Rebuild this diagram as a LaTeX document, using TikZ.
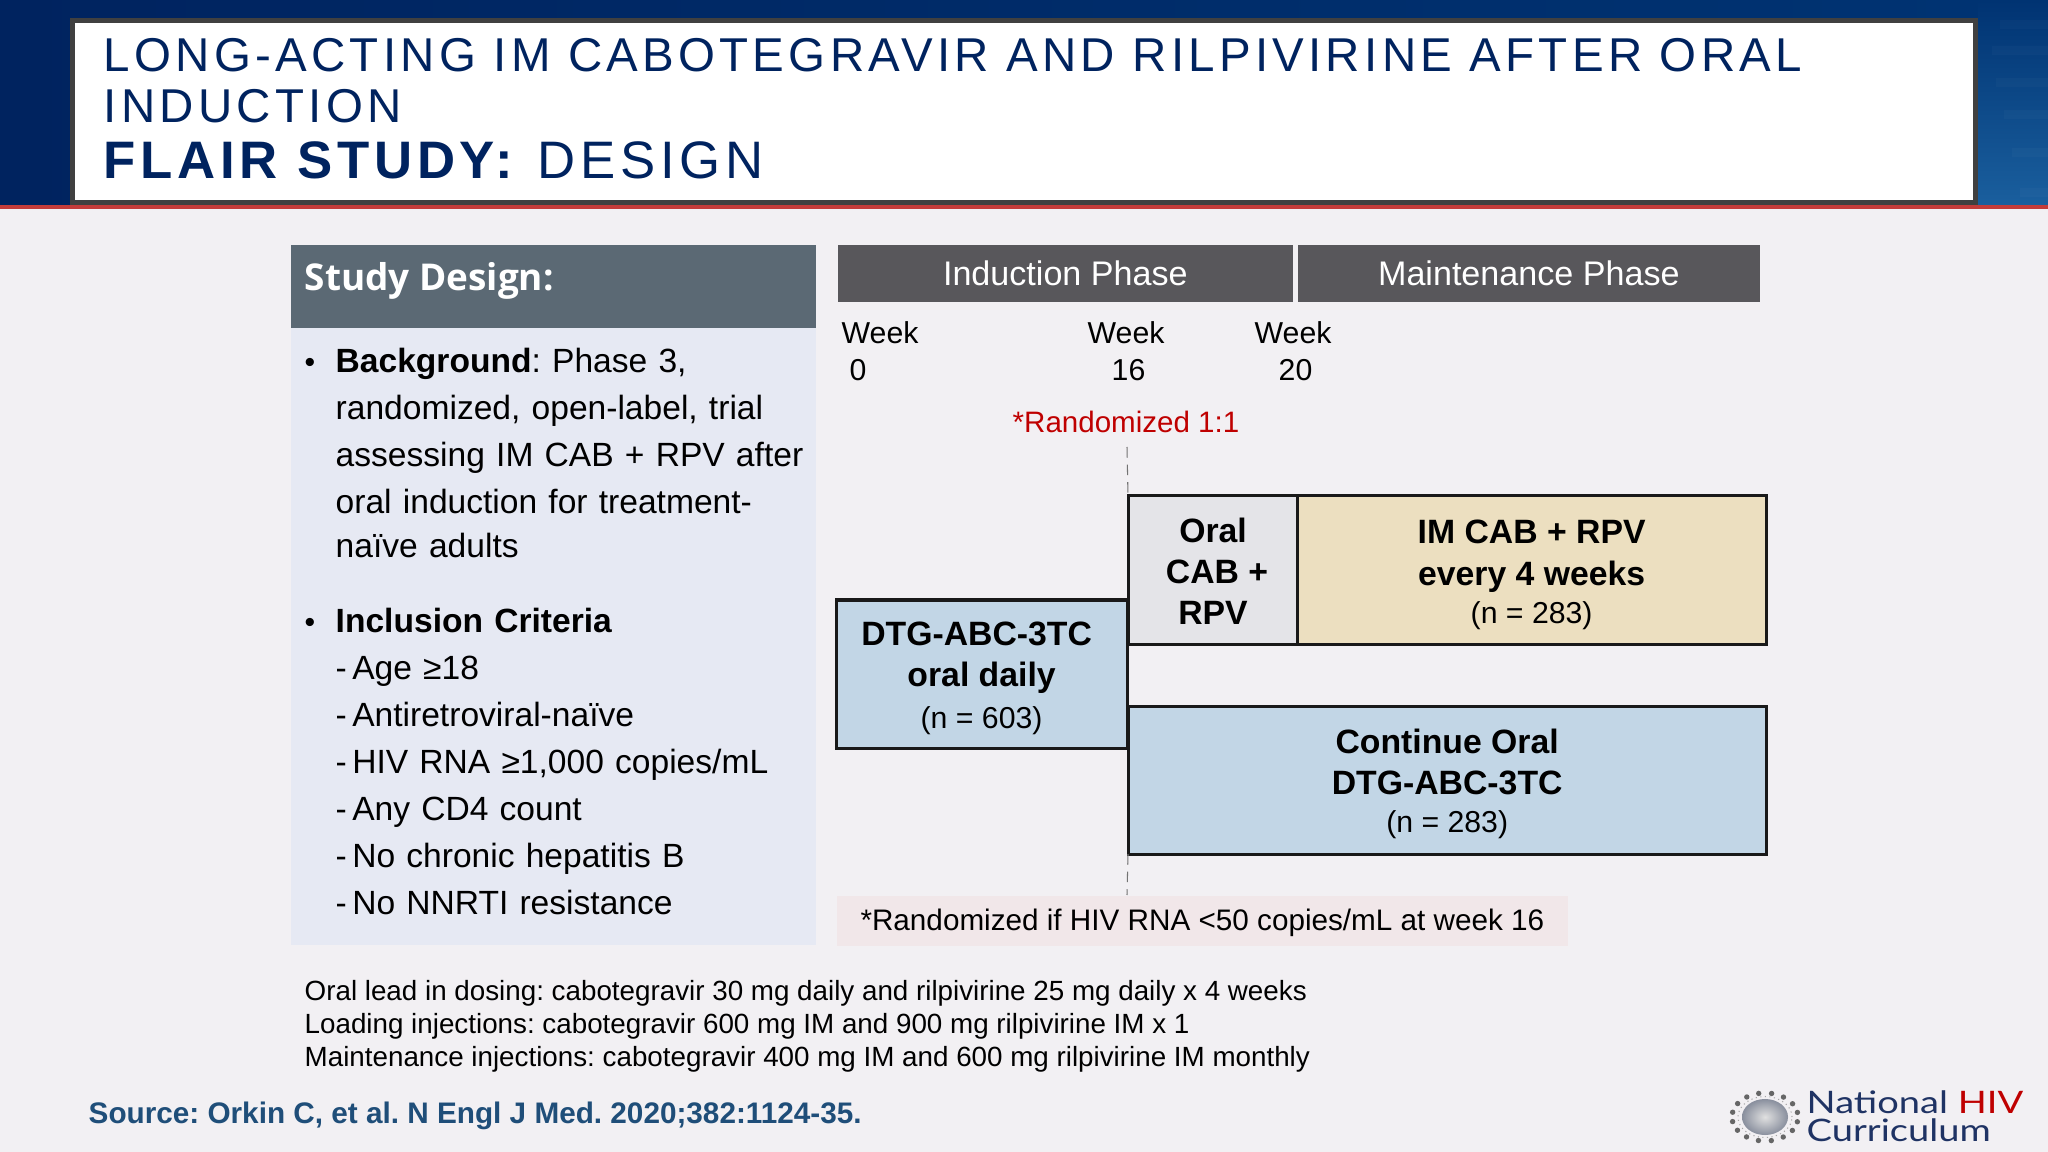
\documentclass[tikz,border=0pt]{standalone}
\usepackage{fontspec}
\setmainfont{Liberation Sans}
\newfontfamily\titlefont[LetterSpace=9]{Liberation Sans}
\newfontfamily\paneltitlefont{Open Sans}
\newfontfamily\logofont[FakeStretch=1.23]{Lato}
\definecolor{navy}{HTML}{00235F}
\definecolor{bannerright}{HTML}{003372}
\definecolor{bannerlow}{HTML}{1A5F9E}
\definecolor{redline}{HTML}{C43C3A}
\definecolor{slide}{HTML}{F2F0F3}
\definecolor{panel}{HTML}{E6E9F3}
\definecolor{paneltop}{HTML}{5B6974}
\definecolor{phase}{HTML}{58575B}
\definecolor{armblue}{HTML}{C2D6E6}
\definecolor{armgrey}{HTML}{E4E4E8}
\definecolor{armtan}{HTML}{ECDFC0}
\definecolor{notepink}{HTML}{F1E7E9}
\definecolor{logoblue}{HTML}{1F3364}
\definecolor{sourceblue}{HTML}{1F4E79}
\frenchspacing
\tikzset{
    titleline/.style={anchor=base west,inner sep=0,text=navy},
    phasebar/.style={anchor=north west,inner sep=0,fill=phase,text=white,minimum height=0.57cm,font=\fontsize{9.7}{12}\selectfont},
    armbox/.style={anchor=north west,inner sep=0,outer sep=0,draw=black!90,line width=0.03cm,align=center,font=\fontsize{9.6}{11.7}\selectfont},
    weeklabel/.style={anchor=base west,inner sep=0,font=\fontsize{8.6}{10}\selectfont},
    listtext/.style={anchor=north west,inner sep=0,text width=4.75cm,align=left,font=\fontsize{9.55}{13.37}\selectfont},
    bulletmark/.style={anchor=base west,inner sep=0,font=\fontsize{8.6}{11}\selectfont},
    dosing/.style={anchor=base west,inner sep=0,font=\fontsize{7.9}{9}\selectfont},
}
\newcommand{\armcount}[1]{{\fontsize{8.6}{11.7}\selectfont #1}}
\newcommand{\listdash}{-\kern0.16em}
\begin{document}
\begin{tikzpicture}[x=0.01cm,y=-0.01cm]
    \useasboundingbox (0,0) rectangle (2048,1152);
    \fill [slide] (0,0) rectangle (2048,1152);
    % banner
    \shade [left color=navy,right color=bannerright] (0,0) rectangle (1978,206);
    \shade [top color=bannerright,bottom color=bannerlow] (1978,0) rectangle (2048,206);
    \foreach \sy/\sx in {24/2000,50/1992,82/1996,114/2004,152/2012,192/2020} {
        \fill [white,opacity=0.025] (\sx,\sy-4) rectangle (2048,\sy+5);
    }
    \fill [redline] (0,205) rectangle (2048,209);
    \draw [draw=black!75,fill=white,line width=0.05cm] (72.5,20.5) rectangle (1975.5,202.5);
    \node [titleline,font=\titlefont\fontsize{13.5}{16}\selectfont] (titleA) at (103,72) {LONG-ACTING IM CABOTEGRAVIR AND RILPIVIRINE AFTER ORAL};
    \node [titleline,font=\titlefont\fontsize{13.5}{16}\selectfont] (titleB) at (103,123) {INDUCTION};
    \node [titleline,font=\titlefont\fontsize{15}{18}\selectfont] (titleC) at (103,179) {\textbf{FLAIR STUDY:} DESIGN};
    % left panel
    \fill [panel] (291,328) rectangle (816,945);
    \fill [paneltop] (291,245) rectangle (816,328);
    \node [anchor=base west,inner sep=0,text=white,font=\paneltitlefont\bfseries\fontsize{10.5}{12}\selectfont] (paneltitle) at (304,291) {Study Design:};
    \node [bulletmark] (bulletA) at (304,373) {•};
    \node [listtext] (background) at (335,347) {\textbf{Background}: Phase 3,\\randomized, open-label, trial\\assessing IM CAB + RPV after\\oral induction for treatment-\\[-0.7pt]naïve adults};
    \node [bulletmark] (bulletB) at (304,633) {•};
    \node [listtext] (criteria) at (335,607) {\textbf{Inclusion Criteria}\\\listdash Age ≥18\\\listdash Antiretroviral-naïve\\\listdash HIV RNA ≥1,000 copies/mL\\\listdash Any CD4 count\\\listdash No chronic hepatitis B\\\listdash No NNRTI resistance};
    % phases and weeks
    \node [phasebar,minimum width=4.55cm] (induction) at (837,244) {Induction Phase};
    \node [phasebar,minimum width=4.62cm] (maintenance) at (1297,244) {Maintenance Phase};
    \foreach \name/\wx/\nx/\wk in {weekA/841/849/0,weekB/1087/1111/16,weekC/1254/1278/20} {
        \node [weeklabel] (\name) at (\wx,344) {Week};
        \node [weeklabel] (\name num) at (\nx,381) {\wk};
    }
    \node [anchor=base,inner sep=0,text=red!75!black,font=\fontsize{8.4}{10}\selectfont] (randomized) at (1126,433) {*Randomized 1:1};
    % arms
    \node [armbox,fill=armblue,minimum width=2.91cm,minimum height=1.48cm] (induct) at (836,600) {\rule{0pt}{9.1pt}\textbf{DTG-ABC-3TC}\kern0.1cm\\\textbf{oral daily}\\\armcount{(n = 603)}};
    \node [armbox,fill=armgrey,minimum width=1.70cm,minimum height=1.48cm] (oral) at (1128,496) {\rule{0pt}{7.6pt}\textbf{Oral}\\\kern0.08cm\textbf{CAB +}\\\textbf{RPV}};
    \node [armbox,fill=armtan,minimum width=4.69cm,minimum height=1.48cm] (inject) at (1297,496) {\rule{0pt}{9.5pt}\textbf{IM CAB + RPV}\\\textbf{every 4 weeks}\\[-0.85pt]\armcount{(n = 283)}};
    \node [armbox,fill=armblue,minimum width=6.38cm,minimum height=1.48cm] (cont) at (1128,706) {\rule{0pt}{9.3pt}\textbf{Continue Oral}\\\textbf{DTG-ABC-3TC}\\[-0.85pt]\armcount{(n = 283)}};
    \node [anchor=north west,inner sep=0,fill=notepink,minimum width=7.31cm,minimum height=0.5cm,text depth=0.6pt,font=\fontsize{8.44}{10}\selectfont] (note) at (836,895) {*Randomized if HIV RNA <50 copies/mL at week 16};
    \coordinate (randtop) at (1127,447);
    \coordinate (randend) at (1127,895);
    \draw [densely dashed,black!55,line width=0.3pt] (randtop) -- (oral.north west);
    \draw [densely dashed,black!55,line width=0.3pt] (cont.south west) -- (randend);
    % dosing notes
    \node [dosing] (doseA) at (304,1000) {Oral lead in dosing: cabotegravir 30 mg daily and rilpivirine 25 mg daily x 4 weeks};
    \node [dosing] (doseB) at (304,1033) {Loading injections: cabotegravir 600 mg IM and 900 mg rilpivirine IM x 1};
    \node [dosing] (doseC) at (304,1066) {Maintenance injections: cabotegravir 400 mg IM and 600 mg rilpivirine IM monthly};
    \node [anchor=base west,inner sep=0,text=sourceblue,font=\bfseries\fontsize{8.45}{10}\selectfont] (source) at (88,1123) {Source: Orkin C, et al. N Engl J Med. 2020;382:1124-35.};
    % logo
    \foreach \ang in {0,22.5,...,337.5} {
        \fill [black!60] (1765,1117) ++(\ang+11:0.33cm and 0.24cm) circle [radius=0.027cm];
    }
    \draw [black!35,line width=0.3pt,densely dotted] (1765,1117) ellipse [x radius=0.27cm,y radius=0.205cm];
    \shade [inner color=black!12,outer color=logoblue!60!black!50] (1765,1117) ellipse [x radius=0.23cm,y radius=0.18cm];
    \node [anchor=base west,inner sep=0,text=logoblue,font=\logofont\fontsize{8.8}{10}\selectfont] (logoA) at (1806,1113) {National \textcolor{red!75!black}{HIV}};
    \node [anchor=base west,inner sep=0,text=logoblue,font=\logofont\fontsize{8.8}{10}\selectfont] (logoB) at (1806,1141) {Curriculum};
\end{tikzpicture}
\end{document}
